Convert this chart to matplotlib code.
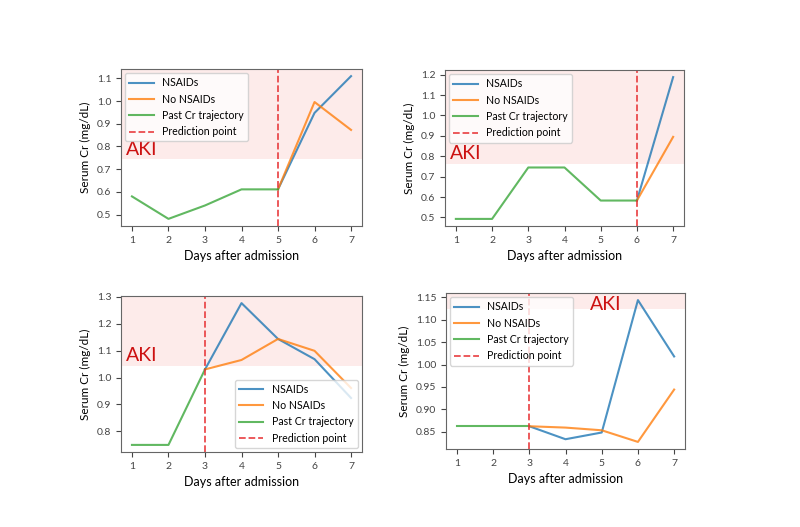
import matplotlib
matplotlib.use('Agg')
import matplotlib.pyplot as plt
from matplotlib.ticker import MultipleLocator

plt.rcParams['font.family'] = ['Lato', 'DejaVu Sans']

days = [1, 2, 3, 4, 5, 6, 7]

# Panel 1 (top left)
p1_past_days = [1, 2, 3, 4, 5]
p1_past = [0.58, 0.481, 0.54, 0.611, 0.611]
p1_pred_days = [5, 6, 7]
p1_nsaid = [0.611, 0.948, 1.11]
p1_no_nsaid = [0.611, 0.996, 0.873]
p1_aki = 0.744
p1_cut = 5

# Panel 2 (top right)
p2_past_days = [1, 2, 3, 4, 5, 6]
p2_past = [0.493, 0.493, 0.745, 0.745, 0.583, 0.583]
p2_pred_days = [6, 7]
p2_nsaid = [0.583, 1.188]
p2_no_nsaid = [0.583, 0.895]
p2_aki = 0.762
p2_cut = 6

# Panel 3 (bottom left)
p3_past_days = [1, 2, 3]
p3_past = [0.75, 0.75, 1.03]
p3_pred_days = [3, 4, 5, 6, 7]
p3_nsaid = [1.03, 1.276, 1.143, 1.068, 0.924]
p3_no_nsaid = [1.03, 1.065, 1.143, 1.099, 0.961]
p3_aki = 1.044
p3_cut = 3

# Panel 4 (bottom right)
p4_past_days = [1, 2, 3]
p4_past = [0.862, 0.862, 0.862]
p4_pred_days = [3, 4, 5, 6, 7]
p4_nsaid = [0.862, 0.833, 0.848, 1.144, 1.018]
p4_no_nsaid = [0.862, 0.859, 0.853, 0.827, 0.944]
p4_aki = 1.123
p4_cut = 3

panels = [
    (p1_past_days, p1_past, p1_pred_days, p1_nsaid, p1_no_nsaid, p1_aki, p1_cut),
    (p2_past_days, p2_past, p2_pred_days, p2_nsaid, p2_no_nsaid, p2_aki, p2_cut),
    (p3_past_days, p3_past, p3_pred_days, p3_nsaid, p3_no_nsaid, p3_aki, p3_cut),
    (p4_past_days, p4_past, p4_pred_days, p4_nsaid, p4_no_nsaid, p4_aki, p4_cut),
]

# axes boxes in pixels: left, right, top, bottom
boxes = [(121, 362, 69, 226), (445, 684, 70, 226),
         (121, 362, 296, 452), (446, 685, 293, 449)]
legend_locs = ['upper left', 'upper left', 'lower right', 'upper left']
y_steps = [0.1, 0.1, 0.1, 0.05]

W, H = 800, 527
fig = plt.figure(figsize=(W / 100, H / 100), dpi=100)

for i, (pd_, pv, fd, ns, nn, aki, cut) in enumerate(panels):
    l, r, t, b = boxes[i]
    ax = fig.add_axes([l / W, 1 - b / H, (r - l) / W, (b - t) / H])
    ax.plot(fd, ns, color='C0', lw=1.5, alpha=0.8, label='NSAIDs')
    ax.plot(fd, nn, color='C1', lw=1.5, alpha=0.8, label='No NSAIDs')
    ax.plot(pd_, pv, color='C2', lw=1.5, alpha=0.75, label='Past Cr trajectory')
    ax.axvline(cut, color='#e8383b', ls='--', lw=1.3, alpha=0.9,
               label='Prediction point')
    ax.set_xticks(days)
    ax.yaxis.set_major_locator(MultipleLocator(y_steps[i]))
    ylo, yhi = ax.get_ylim()
    ax.axhspan(aki, yhi, color='#fdebea', zorder=0, lw=0)
    ax.set_ylim(ylo, yhi)
    if i == 3:
        ax.text(0.67, 0.925, 'AKI', transform=ax.transAxes, color='#cc1111',
                fontsize=14, ha='center', va='center')
    else:
        yfrac = (aki - ylo) / (yhi - ylo)
        ax.text(0.022, yfrac + 0.01, 'AKI', transform=ax.transAxes,
                color='#cc1111', fontsize=14, ha='left', va='bottom')
    ax.set_xlabel('Days after admission', fontsize=9)
    ax.set_ylabel('Serum Cr (mg/dL)', fontsize=8.5)
    ax.tick_params(labelsize=7.5, colors='#444444')
    for s in ax.spines.values():
        s.set_color('#666666')
    ax.legend(loc=legend_locs[i], fontsize=7.6, handlelength=2.3,
              framealpha=0.8, borderaxespad=0.4)

fig.savefig('out.png', dpi=100)
